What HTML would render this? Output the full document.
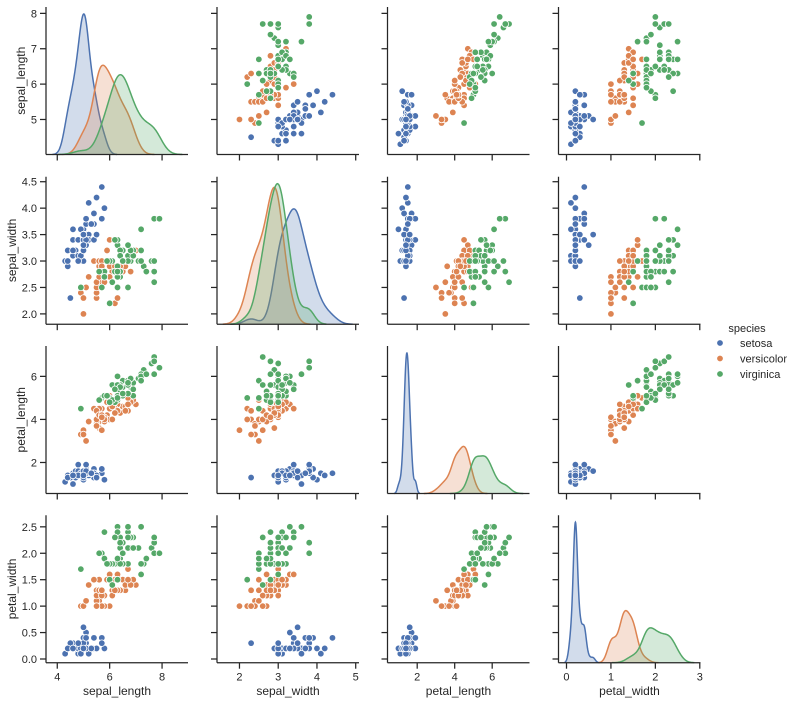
<!DOCTYPE html>
<html><head><meta charset="utf-8"><style>
html,body{margin:0;padding:0;background:#fff;}
svg{display:block;font-family:"Liberation Sans",Arial,sans-serif;}
</style></head><body>
<svg id="chart" width="796" height="704" viewBox="0 0 796 704" xmlns="http://www.w3.org/2000/svg"></svg>
<script>
// ---- data (iris dataset) ----
const speciesNames = ["setosa","versicolor","virginica"];
const speciesColors = ["#4c72b0","#dd8452","#55a868"];
const varNames = ["sepal_length","sepal_width","petal_length","petal_width"];
const sepalLength = [5.1,4.9,4.7,4.6,5.0,5.4,4.6,5.0,4.4,4.9,5.4,4.8,4.8,4.3,5.8,5.7,5.4,5.1,5.7,5.1,5.4,5.1,4.6,5.1,4.8,5.0,5.0,5.2,5.2,4.7,4.8,5.4,5.2,5.5,4.9,5.0,5.5,4.9,4.4,5.1,5.0,4.5,4.4,5.0,5.1,4.8,5.1,4.6,5.3,5.0,
7.0,6.4,6.9,5.5,6.5,5.7,6.3,4.9,6.6,5.2,5.0,5.9,6.0,6.1,5.6,6.7,5.6,5.8,6.2,5.6,5.9,6.1,6.3,6.1,6.4,6.6,6.8,6.7,6.0,5.7,5.5,5.5,5.8,6.0,5.4,6.0,6.7,6.3,5.6,5.5,5.5,6.1,5.8,5.0,5.6,5.7,5.7,6.2,5.1,5.7,
6.3,5.8,7.1,6.3,6.5,7.6,4.9,7.3,6.7,7.2,6.5,6.4,6.8,5.7,5.8,6.4,6.5,7.7,7.7,6.0,6.9,5.6,7.7,6.3,6.7,7.2,6.2,6.1,6.4,7.2,7.4,7.9,6.4,6.3,6.1,7.7,6.3,6.4,6.0,6.9,6.7,6.9,5.8,6.8,6.7,6.7,6.3,6.5,6.2,5.9];
const sepalWidth = [3.5,3.0,3.2,3.1,3.6,3.9,3.4,3.4,2.9,3.1,3.7,3.4,3.0,3.0,4.0,4.4,3.9,3.5,3.8,3.8,3.4,3.7,3.6,3.3,3.4,3.0,3.4,3.5,3.4,3.2,3.1,3.4,4.1,4.2,3.1,3.2,3.5,3.6,3.0,3.4,3.5,2.3,3.2,3.5,3.8,3.0,3.8,3.2,3.7,3.3,
3.2,3.2,3.1,2.3,2.8,2.8,3.3,2.4,2.9,2.7,2.0,3.0,2.2,2.9,2.9,3.1,3.0,2.7,2.2,2.5,3.2,2.8,2.5,2.8,2.9,3.0,2.8,3.0,2.9,2.6,2.4,2.4,2.7,2.7,3.0,3.4,3.1,2.3,3.0,2.5,2.6,3.0,2.6,2.3,2.7,3.0,2.9,2.9,2.5,2.8,
3.3,2.7,3.0,2.9,3.0,3.0,2.5,2.9,2.5,3.6,3.2,2.7,3.0,2.5,2.8,3.2,3.0,3.8,2.6,2.2,3.2,2.8,2.8,2.7,3.3,3.2,2.8,3.0,2.8,3.0,2.8,3.8,2.8,2.8,2.6,3.0,3.4,3.1,3.0,3.1,3.1,3.1,2.7,3.2,3.3,3.0,2.5,3.0,3.4,3.0];
const petalLength = [1.4,1.4,1.3,1.5,1.4,1.7,1.4,1.5,1.4,1.5,1.5,1.6,1.4,1.1,1.2,1.5,1.3,1.4,1.7,1.5,1.7,1.5,1.0,1.7,1.9,1.6,1.6,1.5,1.4,1.6,1.6,1.5,1.5,1.4,1.5,1.2,1.3,1.4,1.3,1.5,1.3,1.3,1.3,1.6,1.9,1.4,1.6,1.4,1.5,1.4,
4.7,4.5,4.9,4.0,4.6,4.5,4.7,3.3,4.6,3.9,3.5,4.2,4.0,4.7,3.6,4.4,4.5,4.1,4.5,3.9,4.8,4.0,4.9,4.7,4.3,4.4,4.8,5.0,4.5,3.5,3.8,3.7,3.9,5.1,4.5,4.5,4.7,4.4,4.1,4.0,4.4,4.6,4.0,3.3,4.2,4.2,4.2,4.3,3.0,4.1,
6.0,5.1,5.9,5.6,5.8,6.6,4.5,6.3,5.8,6.1,5.1,5.3,5.5,5.0,5.1,5.3,5.5,6.7,6.9,5.0,5.7,4.9,6.7,4.9,5.7,6.0,4.8,4.9,5.6,5.8,6.1,6.4,5.6,5.1,5.6,6.1,5.6,5.5,4.8,5.4,5.6,5.1,5.1,5.9,5.7,5.2,5.0,5.2,5.4,5.1];
const petalWidth = [0.2,0.2,0.2,0.2,0.2,0.4,0.3,0.2,0.2,0.1,0.2,0.2,0.1,0.1,0.2,0.4,0.4,0.3,0.3,0.3,0.2,0.4,0.2,0.5,0.2,0.2,0.4,0.2,0.2,0.2,0.2,0.4,0.1,0.2,0.2,0.2,0.2,0.1,0.2,0.2,0.3,0.3,0.2,0.6,0.4,0.3,0.2,0.2,0.2,0.2,
1.4,1.5,1.5,1.3,1.5,1.3,1.6,1.0,1.3,1.4,1.0,1.5,1.0,1.4,1.3,1.4,1.5,1.0,1.5,1.1,1.8,1.3,1.5,1.2,1.3,1.4,1.4,1.7,1.5,1.0,1.1,1.0,1.2,1.6,1.5,1.6,1.5,1.3,1.3,1.3,1.2,1.4,1.2,1.0,1.3,1.2,1.3,1.3,1.1,1.3,
2.5,1.9,2.1,1.8,2.2,2.1,1.7,1.8,1.8,2.5,2.0,1.9,2.1,2.0,2.4,2.3,1.8,2.2,2.3,1.5,2.3,2.0,2.0,1.8,2.1,1.8,1.8,1.8,2.1,1.6,1.9,2.0,2.2,1.5,1.4,2.3,2.4,1.8,1.8,2.1,2.4,2.3,1.9,2.3,2.5,2.3,1.9,2.0,2.3,1.8];
const speciesIndex = Array.from({length:150},(_,i)=>Math.floor(i/50));
const tickLabelsSL = [5,6,7,8];
const tickLabelsSW = [2.0,2.5,3.0,3.5,4.0,4.5];
const tickLabelsPL = [2,4,6];
const tickLabelsPW = [0.0,0.5,1.0,1.5,2.0,2.5];
const xTicksSL = [4,6,8];
const xTicksSW = [2,3,4,5];
const xTicksPW = [0,1,2,3];

const columns = [sepalLength, sepalWidth, petalLength, petalWidth];
// axis limits (view settings)
const xLims = [[3.57,8.99],[1.42,5.085],[0.416,7.99],[-0.18,3.016]];
const yLims = [[4.01,8.18],[1.805,4.595],[0.56,7.41],[-0.07,2.72]];
const yTickSets = [tickLabelsSL, tickLabelsSW, tickLabelsPL, tickLabelsPW];
const xTickSets = [xTicksSL, xTicksSW, tickLabelsPL, xTicksPW];
const decimals = [0,1,0,1];
const yTitleX = [21,12,21,12];

const colL = [46,217,387.5,558.5], W = 142;
const rowT = [7,176.7,346,515.2], H = 147.5;
const svg = document.getElementById('chart');
const NS = "http://www.w3.org/2000/svg";
function mk(tag, attrs, parent){ const e=document.createElementNS(NS,tag); for(const k in attrs) e.setAttribute(k,attrs[k]); (parent||svg).appendChild(e); return e; }
function xs(c,v){ const [a,b]=xLims[c]; return colL[c]+(v-a)/(b-a)*W; }
function ys(r,v){ const [a,b]=yLims[r]; return rowT[r]+H-(v-a)/(b-a)*H; }
const ink = "#262626";

function kde(vals){
  const n=vals.length; const m=vals.reduce((a,b)=>a+b,0)/n;
  const sd=Math.sqrt(vals.reduce((a,b)=>a+(b-m)*(b-m),0)/(n-1));
  const bw=sd*Math.pow(n,-0.2);
  const lo=Math.min(...vals)-3*bw, hi=Math.max(...vals)+3*bw;
  const pts=[];
  for(let i=0;i<200;i++){ const x=lo+(hi-lo)*i/199; let s=0; for(const v of vals){ const z=(x-v)/bw; s+=Math.exp(-0.5*z*z);} pts.push([x,s/(n*bw*Math.sqrt(2*Math.PI))]); }
  return pts;
}

for(let r=0;r<4;r++){
  for(let c=0;c<4;c++){
    const g=mk('g',{});
    
    
    const x0=colL[c], y0=rowT[r];
    if(r===c){
      const curves=[0,1,2].map(s=>kde(columns[c].filter((_,i)=>speciesIndex[i]===s)));
      let mx=0; curves.forEach(cv=>cv.forEach(p=>{if(p[1]>mx)mx=p[1];}));
      const top=mx*1.05;
      curves.forEach((cv,s)=>{
        const ptsStr=cv.map(p=>`${xs(c,p[0]).toFixed(2)},${(y0+H-p[1]/top*H).toFixed(2)}`);
        const fill=mk('polygon',{points:`${xs(c,cv[0][0])},${y0+H} `+ptsStr.join(' ')+` ${xs(c,cv[cv.length-1][0])},${y0+H}`,fill:speciesColors[s],'fill-opacity':0.25,stroke:'none'},g);
        
        
        const ln=mk('polyline',{points:ptsStr.join(' '),fill:'none',stroke:speciesColors[s],'stroke-width':1.5},g);
        
        
      });
    } else {
      for(let i=0;i<150;i++){
        const p=mk('circle',{cx:xs(c,columns[c][i]).toFixed(2),cy:ys(r,columns[r][i]).toFixed(2),r:3.3,fill:speciesColors[speciesIndex[i]],stroke:'#fff','stroke-width':0.8},g);
        
        
      }
    }
    mk('line',{x1:x0,y1:y0,x2:x0,y2:y0+H,stroke:ink,'stroke-width':1.25},g);
    mk('line',{x1:x0,y1:y0+H,x2:x0+W,y2:y0+H,stroke:ink,'stroke-width':1.25},g);
    yTickSets[r].forEach(t=>{
      const y=ys(r,t);
      mk('line',{x1:x0-6,y1:y,x2:x0,y2:y,stroke:ink,'stroke-width':1.25},g);
      if(c===0){
        const tx=mk('text',{x:x0-9,y:y+4,'text-anchor':'end','font-size':11,fill:ink},g);
        tx.textContent=t.toFixed(decimals[r]);
        
        
      }
    });
    xTickSets[c].forEach(t=>{
      const x=xs(c,t);
      mk('line',{x1:x,y1:y0+H,x2:x,y2:y0+H+6,stroke:ink,'stroke-width':1.25},g);
      if(r===3){
        const tx=mk('text',{x:x,y:y0+H+18,'text-anchor':'middle','font-size':11,fill:ink},g);
        tx.textContent=String(t);
        
        
      }
    });
    if(c===0){
      const yl=mk('text',{x:0,y:0,transform:`translate(${yTitleX[r]+4},${y0+H/2}) rotate(-90)`,'text-anchor':'middle','font-size':12,fill:ink},g);
      yl.textContent=varNames[r];
      
      
    }
    if(r===3){
      const xl=mk('text',{x:x0+W/2,y:695,'text-anchor':'middle','font-size':12,fill:ink},g);
      xl.textContent=varNames[c];
      
      
    }
  }
}
const lg=mk('g',{});


const lt=mk('text',{x:747,y:332,'text-anchor':'middle','font-size':11,fill:ink},lg);
lt.textContent='species';


speciesNames.forEach((s,k)=>{
  const y=343+k*15.5;
  const e=mk('g',{},lg);
  
  
  mk('circle',{cx:720,cy:y,r:3.3,fill:speciesColors[k],stroke:'#fff','stroke-width':0.8},e);
  const t=mk('text',{x:740,y:y+4,'font-size':11,fill:ink},e);
  t.textContent=s;
});
</script>
</body></html>
